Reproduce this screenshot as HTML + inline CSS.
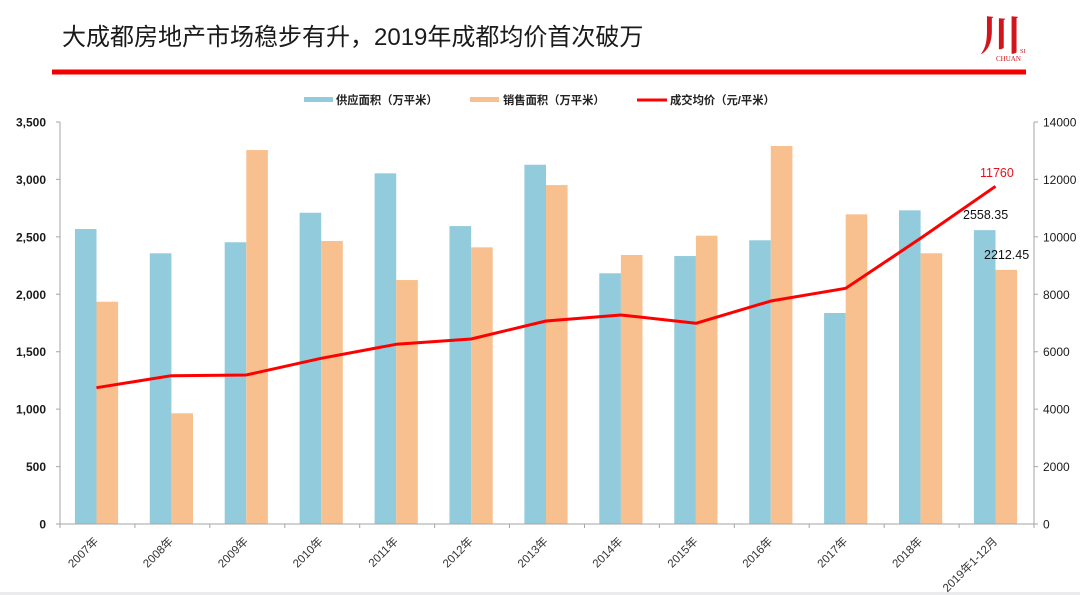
<!DOCTYPE html>
<html>
<head>
<meta charset="utf-8">
<style>
html,body{margin:0;padding:0;background:#fff;}
body{width:1080px;height:595px;overflow:hidden;}
svg{display:block;}
.t{font-family:"Liberation Sans","Noto Sans CJK SC",sans-serif;}
</style>
</head>
<body>
<svg width="1080" height="595" viewBox="0 0 1080 595" xmlns="http://www.w3.org/2000/svg">
<rect x="0" y="0" width="1080" height="595" fill="#fff"/>
<rect x="0" y="592" width="1080" height="3" fill="#ebebed"/>

<!-- Title -->
<text class="t" x="62" y="45" font-size="24" fill="#1a1a1a">大成都房地产市场稳步有升，2019年成都均价首次破万</text>
<rect x="52" y="69.5" width="974" height="5" fill="#f40000"/>

<!-- Logo -->
<text x="980" y="50" font-family="'Noto Serif CJK SC','Noto Sans CJK SC',serif" font-size="42" font-weight="bold" fill="#d0161c">川</text>
<text x="1020" y="53" font-family="'Liberation Serif',serif" font-size="6.5" fill="#d0161c">SI</text>
<text x="996" y="61" font-family="'Liberation Serif',serif" font-size="7" fill="#d0161c">CHUAN</text>

<!-- Legend -->
<rect x="304" y="97" width="29" height="5" fill="#92cbdc"/>
<text class="t" x="336" y="104" font-size="11.3" font-weight="bold" fill="#222">供应面积（万平米）</text>
<rect x="470" y="97" width="29" height="5" fill="#f9c08f"/>
<text class="t" x="503" y="104" font-size="11.3" font-weight="bold" fill="#222">销售面积（万平米）</text>
<rect x="637" y="98.5" width="30" height="3" fill="#f00"/>
<text class="t" x="670" y="104" font-size="11.3" font-weight="bold" fill="#222">成交均价（元/平米）</text>

<!-- Bars -->
<g fill="#92cbdc">
<rect x="74.9" y="229.05" width="21.6" height="294.95"/>
<rect x="149.8" y="253.28" width="21.6" height="270.72"/>
<rect x="224.7" y="242.26" width="21.6" height="281.74"/>
<rect x="299.6" y="212.74" width="21.6" height="311.26"/>
<rect x="374.6" y="173.34" width="21.6" height="350.66"/>
<rect x="449.5" y="226.06" width="21.6" height="297.94"/>
<rect x="524.4" y="164.73" width="21.6" height="359.27"/>
<rect x="599.3" y="273.27" width="21.6" height="250.73"/>
<rect x="674.3" y="256.04" width="21.6" height="267.96"/>
<rect x="749.2" y="240.30" width="21.6" height="283.70"/>
<rect x="824.1" y="313.01" width="21.6" height="210.99"/>
<rect x="899.0" y="210.33" width="21.6" height="313.67"/>
<rect x="973.9" y="230.15" width="21.6" height="293.85"/>
</g>
<g fill="#f9c08f">
<rect x="96.5" y="301.75" width="21.6" height="222.25"/>
<rect x="171.4" y="413.28" width="21.6" height="110.72"/>
<rect x="246.3" y="150.03" width="21.6" height="373.97"/>
<rect x="321.2" y="240.99" width="21.6" height="283.01"/>
<rect x="396.2" y="280.04" width="21.6" height="243.96"/>
<rect x="471.1" y="247.31" width="21.6" height="276.69"/>
<rect x="546.0" y="185.06" width="21.6" height="338.94"/>
<rect x="620.9" y="255.00" width="21.6" height="269.00"/>
<rect x="695.9" y="235.71" width="21.6" height="288.29"/>
<rect x="770.8" y="146.00" width="21.6" height="378.00"/>
<rect x="845.7" y="214.35" width="21.6" height="309.65"/>
<rect x="920.6" y="253.28" width="21.6" height="270.72"/>
<rect x="995.5" y="269.89" width="21.6" height="254.11"/>
</g>

<!-- Axes -->
<g stroke="#a6a6a6" stroke-width="1" fill="none">
<line x1="60" y1="122" x2="60" y2="524.5"/>
<line x1="1034" y1="122" x2="1034" y2="524.5"/>
<line x1="60" y1="524" x2="1034" y2="524"/>
<path d="M56 122H60M56 179.43H60M56 236.86H60M56 294.29H60M56 351.71H60M56 409.14H60M56 466.57H60M56 524H60"/>
<path d="M1034 122H1038M1034 179.43H1038M1034 236.86H1038M1034 294.29H1038M1034 351.71H1038M1034 409.14H1038M1034 466.57H1038M1034 524H1038"/>
<path d="M60 524V528M134.9 524V528M209.8 524V528M284.8 524V528M359.7 524V528M434.6 524V528M509.5 524V528M584.5 524V528M659.4 524V528M734.3 524V528M809.2 524V528M884.2 524V528M959.1 524V528M1034 524V528"/>
</g>

<!-- Line -->
<polyline fill="none" stroke="#f00" stroke-width="3" stroke-linejoin="round" points="96.5,387.69 171.4,375.69 246.3,374.97 321.2,358.29 396.2,344.30 471.1,338.99 546.0,320.99 620.9,314.99 695.9,323.29 770.8,301.01 845.7,288.31 920.6,238.29 995.5,186.32"/>

<!-- Left axis labels -->
<g class="t" font-size="12" font-weight="bold" fill="#1a1a1a" text-anchor="end">
<text x="46" y="126.5">3,500</text>
<text x="46" y="183.9">3,000</text>
<text x="46" y="241.4">2,500</text>
<text x="46" y="298.8">2,000</text>
<text x="46" y="356.2">1,500</text>
<text x="46" y="413.6">1,000</text>
<text x="46" y="471.1">500</text>
<text x="46" y="528.5">0</text>
</g>
<!-- Right axis labels -->
<g class="t" font-size="12" fill="#1a1a1a">
<text x="1043" y="126.5">14000</text>
<text x="1043" y="183.9">12000</text>
<text x="1043" y="241.4">10000</text>
<text x="1043" y="298.8">8000</text>
<text x="1043" y="356.2">6000</text>
<text x="1043" y="413.6">4000</text>
<text x="1043" y="471.1">2000</text>
<text x="1043" y="528.5">0</text>
</g>

<!-- X labels -->
<g class="t" font-size="11.5" fill="#333" text-anchor="end">
<text transform="translate(99,542) rotate(-45)">2007年</text>
<text transform="translate(173.9,542) rotate(-45)">2008年</text>
<text transform="translate(248.8,542) rotate(-45)">2009年</text>
<text transform="translate(323.7,542) rotate(-45)">2010年</text>
<text transform="translate(398.7,542) rotate(-45)">2011年</text>
<text transform="translate(473.6,542) rotate(-45)">2012年</text>
<text transform="translate(548.5,542) rotate(-45)">2013年</text>
<text transform="translate(623.4,542) rotate(-45)">2014年</text>
<text transform="translate(698.4,542) rotate(-45)">2015年</text>
<text transform="translate(773.3,542) rotate(-45)">2016年</text>
<text transform="translate(848.2,542) rotate(-45)">2017年</text>
<text transform="translate(923.1,542) rotate(-45)">2018年</text>
<text transform="translate(998,542) rotate(-45)">2019年1-12月</text>
</g>

<!-- Data labels -->
<text class="t" x="980" y="177" font-size="12.5" fill="#e8101a">11760</text>
<text class="t" x="963" y="219" font-size="12.5" fill="#111">2558.35</text>
<text class="t" x="984" y="259" font-size="12.5" fill="#111">2212.45</text>
</svg>
</body>
</html>
